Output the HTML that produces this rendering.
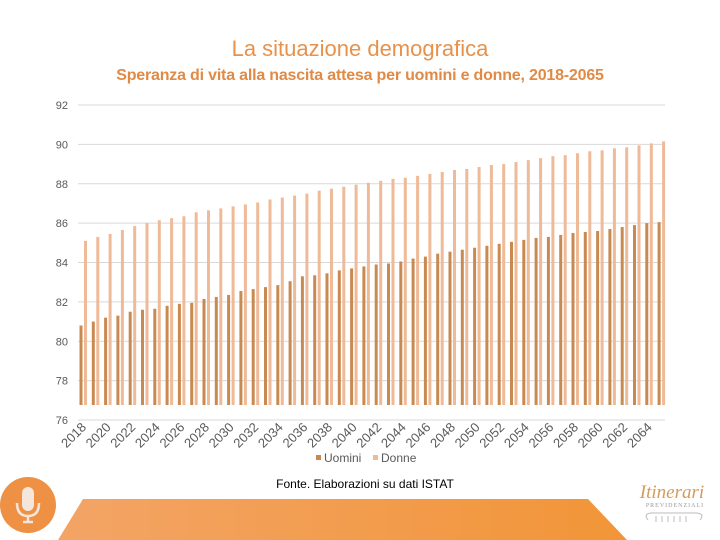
<!DOCTYPE html>
<html><head><meta charset="utf-8"><style>
body{margin:0;width:720px;height:540px;overflow:hidden;background:#fff;font-family:"Liberation Sans",sans-serif;position:relative}
</style></head><body>
<div style="position:absolute;left:0;width:720px;top:36px;text-align:center;font-size:22px;color:#e8914a">La situazione demografica</div>
<div style="position:absolute;left:0;width:720px;top:67px;text-align:center;font-size:16px;font-weight:bold;color:#e08a45;letter-spacing:-0.2px">Speranza di vita alla nascita attesa per uomini e donne, 2018-2065</div>
<svg id="chart" width="720" height="540" style="position:absolute;left:0;top:0"></svg>
<div style="position:absolute;left:0;width:730px;top:477px;text-align:center;font-size:12px;color:#000">Fonte. Elaborazioni su dati ISTAT</div>
<script>
const years=[];for(let y=2018;y<=2065;y++)years.push(y);
const men=[80.8,81.0,81.2,81.3,81.5,81.6,81.65,81.8,81.9,81.95,82.15,82.25,82.35,82.55,82.65,82.75,82.85,83.05,83.3,83.35,83.45,83.6,83.7,83.8,83.9,83.95,84.05,84.2,84.3,84.45,84.55,84.65,84.75,84.85,84.95,85.05,85.15,85.25,85.3,85.4,85.5,85.55,85.6,85.7,85.8,85.9,86.0,86.05];
const women=[85.1,85.3,85.45,85.65,85.85,86.0,86.15,86.25,86.35,86.55,86.65,86.75,86.85,86.95,87.05,87.2,87.3,87.4,87.5,87.65,87.75,87.85,87.95,88.05,88.15,88.25,88.3,88.4,88.5,88.6,88.7,88.75,88.85,88.95,89.0,89.1,89.2,89.3,89.4,89.45,89.55,89.65,89.7,89.8,89.85,89.95,90.05,90.15];
const yTicks=[76,78,80,82,84,86,88,90,92];
const svg=document.getElementById('chart');const NS='http://www.w3.org/2000/svg';
const x0=75,step=12.3,yMin=76,yMax=92,py0=420,py1=105,barBase=405;
const Y=v=>py0-(v-yMin)/(yMax-yMin)*(py0-py1);
const X=i=>x0+i*step;
function mk(t,a){const e=document.createElementNS(NS,t);for(const k in a)e.setAttribute(k,a[k]);svg.appendChild(e);return e;}
yTicks.forEach(t=>{
 const l=mk('line',{x1:78,x2:665,y1:Y(t),y2:Y(t),stroke:'#d9d9d9','stroke-width':1});
 
 
 const tx=mk('text',{x:68,y:Y(t)+4,'text-anchor':'end','font-size':11,fill:'#595959'});tx.textContent=t;
 
 
});
years.forEach((yr,i)=>{
 const m=mk('rect',{x:X(i)+4.5,y:Y(men[i]),width:3,height:barBase-Y(men[i]),fill:'#c98a52'});
 
 
 const w=mk('rect',{x:X(i)+9,y:Y(women[i]),width:3,height:barBase-Y(women[i]),fill:'#efba98'});
 
 
 if(i%2===0){
  const cx=X(i)+12,cy=428;
  const t=mk('text',{x:cx,y:cy,'text-anchor':'end','font-size':13,fill:'#595959',transform:`rotate(-45 ${cx} ${cy})`});
  t.textContent=yr;
  
  
 }
});
const lg=[['Uomini','#c98a52',316],['Donne','#efba98',373]];
lg.forEach(([n,c,x])=>{
 const r=mk('rect',{x:x,y:455,width:5,height:5,fill:c});
 
 
 const t=mk('text',{x:x+8,y:462,'font-size':12,fill:'#595959'});t.textContent=n;
 
 
});
const g=mk('defs',{});g.innerHTML='<linearGradient id="bg" x1="0" x2="1"><stop offset="0" stop-color="#f3a466"/><stop offset="1" stop-color="#f29538"/></linearGradient>';
const ban=mk('polygon',{points:'83,499 588,499 627,540 58,540',fill:'url(#bg)'});


const c=mk('circle',{cx:28,cy:505,r:28,fill:'#ee9144'});


const mic=mk('rect',{x:22,y:487,width:12,height:24,rx:6,fill:'#f4e6da'});


mk('path',{d:'M17 503 q0 13 11 13 q11 0 11 -13 M28 516 v5 M23 522 h10',stroke:'#f4e6da','stroke-width':2.5,fill:'none'});
const b=mk('text',{x:672,y:498,'text-anchor':'middle','font-size':19,'font-style':'italic','font-family':'Liberation Serif',fill:'#d69a5a'});b.textContent='Itinerari';


const b2=mk('text',{x:675,y:507,'text-anchor':'middle','font-size':6,'font-family':'Liberation Serif',fill:'#999','letter-spacing':'1'});b2.textContent='PREVIDENZIALI';


const orn=mk('path',{d:'M648 520 q-5 -6 3 -7 h46 q8 1 3 7 M656 522 v-6 M662 522 v-6 M668 522 v-6 M674 522 v-6 M680 522 v-6 M686 522 v-6',stroke:'#bbb','stroke-width':1,fill:'none'});


</script>
</body></html>
